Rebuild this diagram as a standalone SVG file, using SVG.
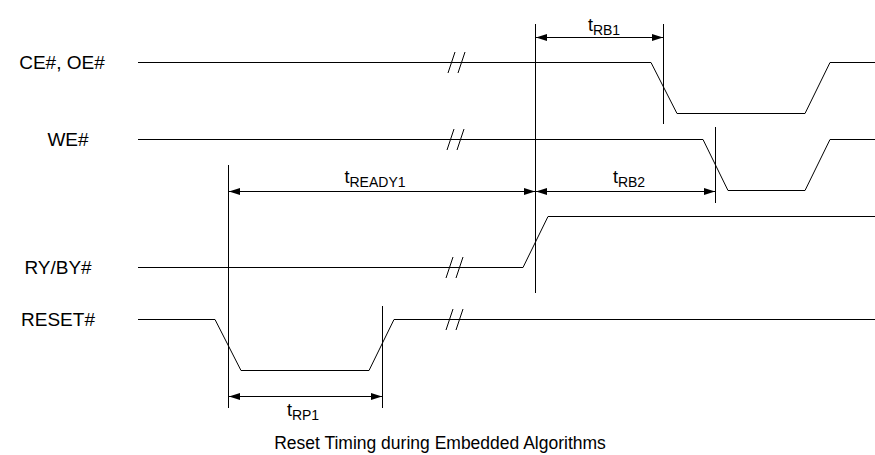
<svg xmlns="http://www.w3.org/2000/svg" width="875" height="455" viewBox="0 0 875 455">
<style>
.sig{fill:none;stroke:#000;stroke-width:1}
.br{fill:none;stroke:#000;stroke-width:1}
.ref{fill:none;stroke:#000;stroke-width:1}
.dim{fill:none;stroke:#000;stroke-width:1;marker-start:url(#ah);marker-end:url(#ah)}
.lbl{font-family:"Liberation Sans",Arial,sans-serif;font-size:19px;fill:#000;text-anchor:middle}
.tl{font-family:"Liberation Sans",Arial,sans-serif;font-size:18px;fill:#000;text-anchor:middle}
.sub{font-size:14px}
.cap{font-family:"Liberation Sans",Arial,sans-serif;font-size:17.5px;fill:#000;text-anchor:middle}
</style>
<defs>
<marker id="ah" viewBox="0 0 11 7" refX="11" refY="3.5" markerWidth="11" markerHeight="7" markerUnits="userSpaceOnUse" orient="auto-start-reverse">
<path d="M0,0 L11,3.5 L0,7 z" fill="#000"/>
</marker>
</defs>
<rect width="875" height="455" fill="#fff"/>
<g id="sig-ce">
<text class="lbl" x="62" y="69">CE#, OE#</text>
<path class="sig" d="M138,62.5 H651 L677,113.5 H805 L830,62.5 H875"/>
<path class="br" d="M448,73 L455,52 M458,73 L465,52"/>
</g>
<g id="sig-we">
<text class="lbl" x="68" y="146">WE#</text>
<path class="sig" d="M138,139.5 H703 L728,190.5 H805 L830,139.5 H875"/>
<path class="br" d="M447,150 L454,129 M457,150 L464,129"/>
</g>
<g id="sig-ry">
<text class="lbl" x="58" y="274">RY/BY#</text>
<path class="sig" d="M138,267.5 H523 L548,216.5 H875"/>
<path class="br" d="M446,278 L453,257 M456,278 L463,257"/>
</g>
<g id="sig-reset">
<text class="lbl" x="58" y="326">RESET#</text>
<path class="sig" d="M138,319.5 H215 L241,370.5 H369 L394,319.5 H875"/>
<path class="br" d="M446,330 L453,309 M456,330 L463,309"/>
</g>
<g id="connectors">
<path class="ref" d="M228.5,165 V408 M535.5,24 V293 M663.5,24 V124 M715.5,127 V203 M382.5,306 V408"/>
<path class="dim" d="M536,37.5 H663"/>
<path class="dim" d="M229,191.5 H535"/>
<path class="dim" d="M536,191.5 H715"/>
<path class="dim" d="M229,396.5 H382"/>
</g>
<g id="labels">
<text class="tl" x="604" y="31">t<tspan class="sub" dy="4">RB1</tspan></text>
<text class="tl" x="375" y="183">t<tspan class="sub" dy="4">READY1</tspan></text>
<text class="tl" x="629" y="183">t<tspan class="sub" dy="4">RB2</tspan></text>
<text class="tl" x="303" y="416">t<tspan class="sub" dy="4">RP1</tspan></text>
</g>
<text class="cap" x="440" y="449">Reset Timing during Embedded Algorithms</text>
</svg>
